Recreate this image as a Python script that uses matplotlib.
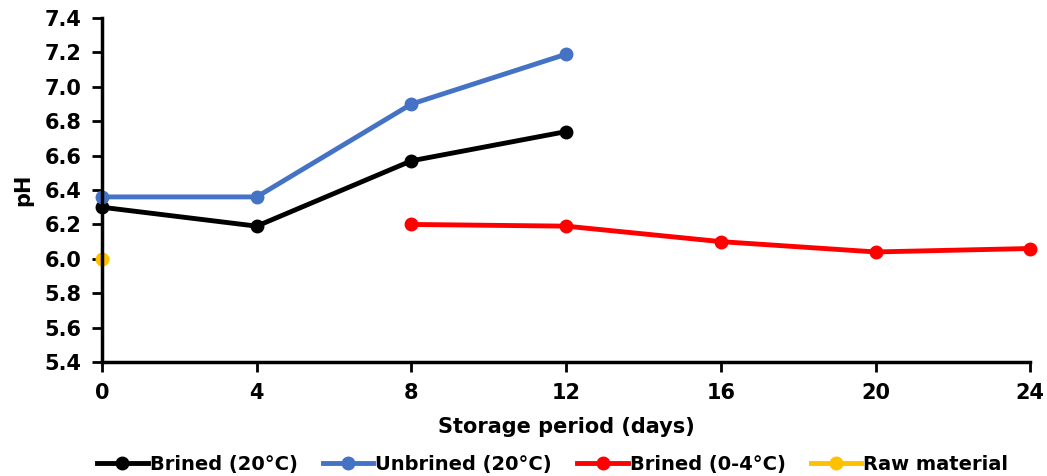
import matplotlib
matplotlib.use("Agg")
import matplotlib.pyplot as plt

days_brined_20 = [0, 4, 8, 12]
ph_brined_20 = [6.30, 6.19, 6.57, 6.74]

days_unbrined_20 = [0, 4, 8, 12]
ph_unbrined_20 = [6.36, 6.36, 6.90, 7.19]

days_brined_cold = [8, 12, 16, 20, 24]
ph_brined_cold = [6.20, 6.19, 6.10, 6.04, 6.06]

days_raw = [0]
ph_raw = [6.00]

x_ticks = [0, 4, 8, 12, 16, 20, 24]
y_ticks = [5.4, 5.6, 5.8, 6.0, 6.2, 6.4, 6.6, 6.8, 7.0, 7.2, 7.4]

plt.rcParams["font.family"] = ["DejaVu Sans"]
plt.rcParams["font.weight"] = "bold"

fig = plt.figure(figsize=(10.47, 4.76), dpi=100)
ax = fig.add_axes([0.0974, 0.2395, 0.8866, 0.7225])

style = dict(linewidth=3.5, marker="o", markersize=9, clip_on=False)
ax.plot(days_brined_20, ph_brined_20, color="black", label="Brined (20°C)", **style)
ax.plot(days_unbrined_20, ph_unbrined_20, color="#4472C4", label="Unbrined (20°C)", **style)
ax.plot(days_brined_cold, ph_brined_cold, color="#FF0000", label="Brined (0-4°C)", **style)
ax.plot(days_raw, ph_raw, color="#FFC000", label="Raw material", **style)

ax.set_xlim(0, 24)
ax.set_ylim(5.4, 7.4)
ax.set_xticks(x_ticks)
ax.set_yticks(y_ticks)
ax.set_yticklabels([f"{v:.1f}" for v in y_ticks])
ax.tick_params(axis="both", labelsize=15, width=2, length=7, direction="out")
ax.tick_params(axis="x", pad=8)
ax.tick_params(axis="y", pad=8)
for lab in ax.get_xticklabels() + ax.get_yticklabels():
    lab.set_fontweight("bold")

for side in ["top", "right"]:
    ax.spines[side].set_visible(False)
for side in ["left", "bottom"]:
    ax.spines[side].set_linewidth(2.5)

ax.set_xlabel("Storage period (days)", fontsize=15, fontweight="bold", labelpad=10)
ax.set_ylabel("pH", fontsize=15, fontweight="bold", labelpad=8)

fig.legend(loc="center", bbox_to_anchor=(0.528, 0.024), ncol=4, frameon=False,
           handlelength=2.6, handletextpad=0.1, columnspacing=1.3,
           prop={"weight": "bold", "size": 14})

fig.savefig("out.png", dpi=100)
